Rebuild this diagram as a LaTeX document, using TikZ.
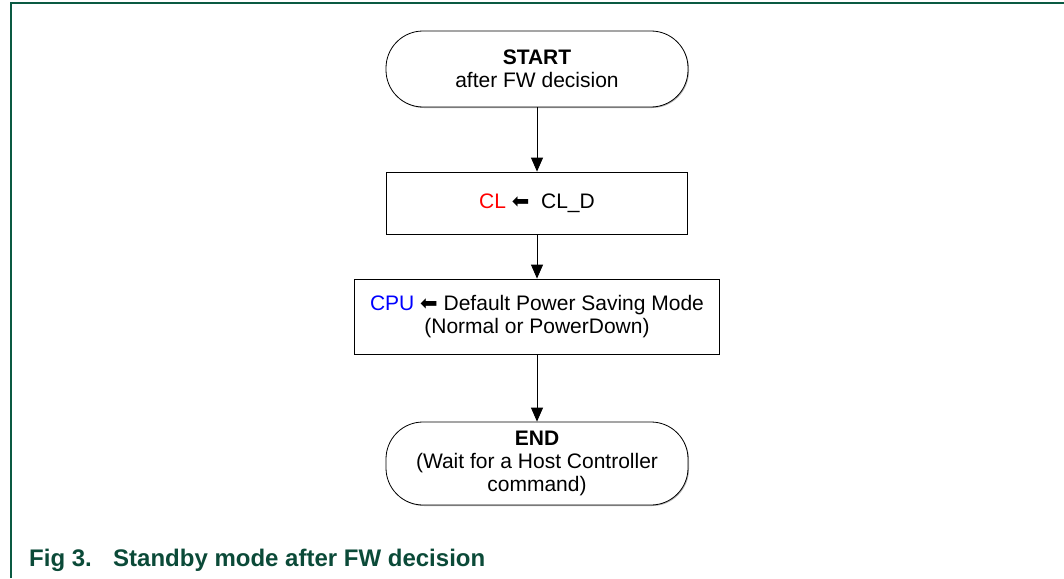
\documentclass[tikz,border=0pt]{standalone}
\usepackage{fontspec}
\setmainfont{Liberation Sans}
\newfontfamily\arrowfont{DejaVu Sans}
\usetikzlibrary{arrows.meta}

\definecolor{framegreen}{HTML}{0A5A42}
\definecolor{capgreen}{HTML}{0B4A38}
\newcommand{\larr}{{\arrowfont\char"2B05}}

\begin{document}
\begin{tikzpicture}[x=1pt,y=-1pt,
  term/.style={draw,fill=white,rectangle,rounded corners=37pt,minimum width=302pt,inner sep=0pt,
    align=center,font=\fontsize{21}{23}\selectfont,line width=0.8pt},
  proc/.style={draw,rectangle,inner sep=0pt,align=center,
    font=\fontsize{21}{23}\selectfont,line width=0.8pt},
  flow/.style={line width=0.8pt,-{Triangle[width=12pt,length=14pt]}},
  caption/.style={anchor=base west,inner sep=0pt,text=capgreen,
    font=\fontsize{24}{26}\selectfont\bfseries}]
  \useasboundingbox (0,0) rectangle (1064,578);
  % frame
  \draw[framegreen,line width=1.6pt] (11,578) -- (11,3) -- (1064,3);
  % shadows under the terminals
  \fill[gray!60,rounded corners=37pt] (387,32) rectangle (689,108);
  \fill[gray!60,rounded corners=37pt] (387,423) rectangle (689,506);
  % flow chart
  \node[term,minimum height=76pt] (start) at (537,69) {\textbf{START}\\after FW decision};
  \node[proc,minimum width=301pt,minimum height=62pt] (cl) at (537,203)
    {\textcolor{red}{CL} \larr\ \ CL\_D};
  \node[proc,minimum width=365pt,minimum height=75pt] (cpu) at (537,316.5)
    {\textcolor{blue}{CPU} \larr\ Default Power Saving Mode\\(Normal or PowerDown)};
  \node[term,minimum height=83pt] (end) at (537,463.5)
    {\textbf{END}\\(Wait for a Host Controller\\command)};
  \draw[flow] (start) -- (cl);
  \draw[flow] (cl) -- (cpu);
  \draw[flow] (cpu) -- (end);
  % caption
  \node[caption] (fignum) at (29,566) {Fig 3.};
  \node[caption] (figtitle) at (113,566) {Standby mode after FW decision};
\end{tikzpicture}
\end{document}
